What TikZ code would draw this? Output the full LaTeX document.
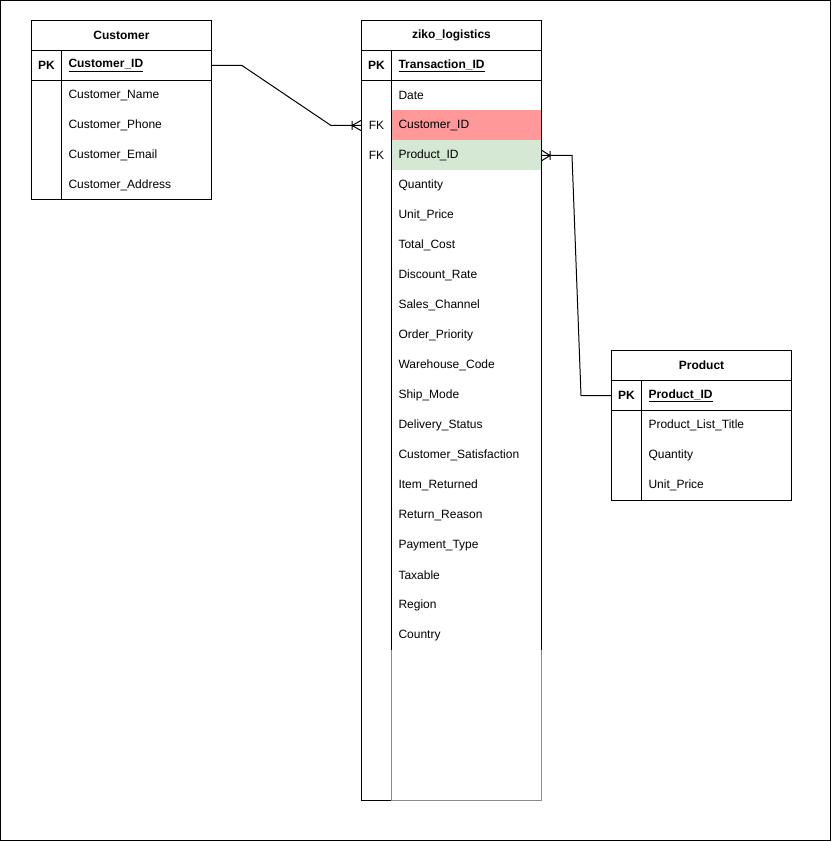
\documentclass[tikz,border=0pt]{standalone}
\usepackage{fontspec}
\setmainfont{Liberation Sans}

\begin{document}
\fontsize{12}{14}\selectfont
\begin{tikzpicture}[x=1pt, y=-1pt, line width=1pt]
    % Define colors
    \definecolor{fkred}{RGB}{255,153,153}     % Red for customer key
    \definecolor{fkgreen}{RGB}{213,232,212}   % Green for product key
    \definecolor{fadeline}{RGB}{140,140,140}  % Grey for lower border

    % Define styles
    \tikzset{
      tbltitle/.style={draw, anchor=north west, minimum width=180pt, minimum height=30pt, inner sep=0pt, font=\bfseries},
      keycell/.style={anchor=north west, minimum width=30pt, minimum height=30pt, inner sep=0pt},
      field/.style={anchor=north west, text width=136pt, inner xsep=7pt, inner ysep=0pt, minimum height=30pt, align=left}
    }

    \useasboundingbox (0,0) rectangle (832,842);

    % Draw the outer frame
    \draw (0.5,0.5) rectangle (830.5,840.5);

    % Customer table
    \node[tbltitle] (cust_title) at (31,20) {Customer};
    \node[keycell, draw, font=\bfseries] (cust_pk) at (31,50) {PK};
    \node[field, draw, font=\bfseries] (cust_id) at (61,50) {\underline{Customer\_ID}};
    \node[field] (cust_name) at (61,80) {Customer\_Name};
    \node[field] (cust_phone) at (61,110) {Customer\_Phone};
    \node[field] (cust_email) at (61,140) {Customer\_Email};
    \node[field] (cust_addr) at (61,170) {Customer\_Address};
    \draw (31,80) -- (31,200) -- (211,200) -- (211,80);
    \draw (61,80) -- (61,200);

    % ziko_logistics table
    \node[tbltitle] (z_title) at (361,20) {ziko\_logistics};
    \node[keycell, draw, font=\bfseries] (z_pk) at (361,50) {PK};
    \node[field, draw, font=\bfseries] (z_id) at (391,50) {\underline{Transaction\_ID}};
    \node[field] (z_date) at (391,80) {Date};
    \node[keycell] (z_fk1) at (361,110) {FK};
    \node[field, fill=fkred] (z_custid) at (391,110) {Customer\_ID};
    \node[keycell] (z_fk2) at (361,140) {FK};
    \node[field, fill=fkgreen] (z_prodid) at (391,140) {Product\_ID};
    \node[field] (z_qty) at (391,170) {Quantity};
    \node[field] (z_price) at (391,200) {Unit\_Price};
    \node[field] (z_cost) at (391,230) {Total\_Cost};
    \node[field] (z_disc) at (391,260) {Discount\_Rate};
    \node[field] (z_chan) at (391,290) {Sales\_Channel};
    \node[field] (z_prio) at (391,320) {Order\_Priority};
    \node[field] (z_wh) at (391,350) {Warehouse\_Code};
    \node[field] (z_ship) at (391,380) {Ship\_Mode};
    \node[field] (z_deliv) at (391,410) {Delivery\_Status};
    \node[field] (z_satis) at (391,440) {Customer\_Satisfaction};
    \node[field] (z_ret) at (391,470) {Item\_Returned};
    \node[field] (z_reason) at (391,500) {Return\_Reason};
    \node[field] (z_pay) at (391,530) {Payment\_Type};
    \node[field] (z_tax) at (391,560) {Taxable};
    \node[field] (z_region) at (391,590) {Region};
    \node[field] (z_country) at (391,620) {Country};
    \draw (391,650) -- (391,80);
    \draw (541,80) -- (541,650);
    \draw (361,80) -- (361,800) -- (391,800);
    \draw[fadeline] (391,650) -- (391,800) -- (541,800) -- (541,650);

    % Product table
    \node[tbltitle] (prod_title) at (611,350) {Product};
    \node[keycell, draw, font=\bfseries] (prod_pk) at (611,380) {PK};
    \node[field, draw, font=\bfseries] (prod_id) at (641,380) {\underline{Product\_ID}};
    \node[field] (prod_list) at (641,410) {Product\_List\_Title};
    \node[field] (prod_qty) at (641,440) {Quantity};
    \node[field] (prod_price) at (641,470) {Unit\_Price};
    \draw (611,410) -- (611,500) -- (791,500) -- (791,410);
    \draw (641,410) -- (641,500);

    % Customer to ziko_logistics
    \draw (cust_id.east) -- ++(30,0) -- ([xshift=-30pt]z_fk1.west) -- (z_fk1.west);
    \draw ([xshift=-9pt]z_fk1.west) -- ([yshift=5pt]z_fk1.west)
          ([xshift=-9pt]z_fk1.west) -- ([yshift=-5pt]z_fk1.west)
          ([xshift=-9pt, yshift=4.5pt]z_fk1.west) -- ([xshift=-9pt, yshift=-4.5pt]z_fk1.west);

    % Product to ziko_logistics
    \draw (prod_pk.west) -- ++(-30,0) -- ([xshift=30pt]z_prodid.east) -- (z_prodid.east);
    \draw ([xshift=8pt]z_prodid.east) -- ([yshift=5pt]z_prodid.east)
          ([xshift=8pt]z_prodid.east) -- ([yshift=-5pt]z_prodid.east)
          ([xshift=8pt, yshift=4.5pt]z_prodid.east) -- ([xshift=8pt, yshift=-4.5pt]z_prodid.east);

\end{tikzpicture}
\end{document}
